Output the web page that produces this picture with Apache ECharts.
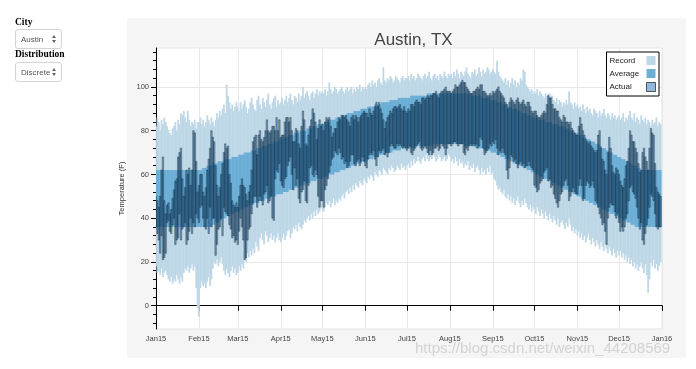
<!DOCTYPE html>
<html><head><meta charset="utf-8">
<script src="https://cdn.jsdelivr.net/npm/echarts@6.0.0/dist/echarts.min.js"></script>
<style>
html,body{margin:0;padding:0;background:#fff;width:696px;height:369px;overflow:hidden;}
#panel{position:absolute;left:127px;top:18px;width:559px;height:340px;background:#f5f5f5;}
#chart{position:absolute;left:0;top:0;width:696px;height:369px;}
.lbl{position:absolute;left:15px;font:bold 9.5px "Liberation Serif","DejaVu Serif",serif;color:#000;z-index:2;}
.sel{position:absolute;left:15px;width:45px;height:18px;border:1px solid #d4d4d4;border-radius:3px;background:#fff;font:8px "Liberation Sans",Arial,sans-serif;color:#555;z-index:2;opacity:0.999;will-change:transform;}
.sel span{position:absolute;left:5px;top:5px;color:#555;}
.up{position:absolute;right:5px;top:5px;width:0;height:0;border-left:2px solid transparent;border-right:2px solid transparent;border-bottom:3px solid #666;}
.dn{position:absolute;right:5px;top:10px;width:0;height:0;border-left:2px solid transparent;border-right:2px solid transparent;border-top:3px solid #666;}
</style></head>
<body>
<div id="panel"></div>
<div id="chart"></div>
<div class="lbl" style="top:17px">City</div>
<div class="sel" style="top:29px"><span>Austin</span><i class="up"></i><i class="dn"></i></div>
<div class="lbl" style="top:49px">Distribution</div>
<div class="sel" style="top:62px"><span>Discrete</span><i class="up"></i><i class="dn"></i></div>
<script>
var monthLabels = ['Jan15','Feb15','Mar15','Apr15','May15','Jun15','Jul15','Aug15','Sep15','Oct15','Nov15','Dec15','Jan16'];
var yTicks = [0,20,40,60,80,100];
var yMinorTicks = [-8,-4,4,8,12,16,24,28,32,36,44,48,52,56,64,68,72,76,84,88,92,96,104,108,112,116];

var recordMax = [
82,86,84,80,85,83,86,84,82,80,79,78,81,82,84,80,85,83,88,87,89,86,84,89,85,82,84,83,85,81,84,
84,86,83,85,82,84,87,85,83,86,84,82,85,88,86,89,87,90,92,88,101,96,93,90,92,89,91,93,
91,89,93,90,92,94,91,88,90,93,95,92,90,89,94,96,92,90,95,93,91,94,97,92,90,93,95,96,91,94,92,
93,95,92,94,96,93,95,97,94,92,96,95,93,97,94,96,100,95,97,98,96,94,97,98,95,97,99,96,98,97,
98,97,99,96,98,102,99,97,98,100,99,97,98,99,100,98,97,99,100,98,99,100,97,99,98,100,99,101,98,100,99,
100,99,101,102,100,103,101,102,100,103,104,102,101,109,103,102,104,103,105,104,102,103,105,104,103,102,104,105,103,104,
104,105,103,106,104,105,103,104,106,105,104,103,105,106,104,105,107,104,103,105,106,104,105,103,106,105,104,107,105,104,106,
105,106,104,107,105,108,106,104,107,106,105,107,109,106,105,104,107,106,108,105,106,109,107,105,108,106,107,109,108,106,107,
108,107,106,112,107,105,104,103,102,104,101,103,100,102,104,101,103,100,102,101,104,103,108,107,101,100,99,98,99,97,
98,97,99,96,98,97,96,95,97,96,97,97,96,96,94,93,95,92,94,93,91,93,92,94,92,98,93,92,90,93,91,
92,90,91,89,92,90,88,91,89,90,88,87,90,89,88,86,89,87,88,90,87,86,88,87,85,88,86,87,85,86,
87,85,86,88,84,86,85,87,89,86,85,88,84,86,85,83,87,85,84,86,83,85,84,82,85,83,84,86,82,84,83
];
var recordMin = [
18,15,16,14,17,13,15,16,14,12,11,13,10,12,11,14,12,10,13,11,15,17,16,18,15,17,19,16,18,8,-1,
-5,8,11,9,10,8,11,13,9,12,17,20,19,21,18,20,22,19,16,14,17,15,13,16,18,15,17,14,
15,18,16,19,17,21,20,24,22,25,23,26,24,29,27,25,31,33,30,28,34,32,29,31,33,30,32,29,31,33,30,
29,31,33,30,32,34,35,31,33,36,35,37,34,38,36,35,37,39,38,40,41,39,42,40,43,41,44,42,43,45,
44,43,45,47,46,48,45,47,49,46,48,47,49,48,50,51,49,52,53,51,54,52,55,53,56,55,54,57,56,55,58,
57,56,59,58,60,59,57,61,60,59,62,61,60,63,62,61,60,63,62,64,63,61,62,64,63,62,65,63,64,62,
64,65,63,66,64,67,65,66,68,66,65,67,68,66,69,67,66,68,67,69,68,66,67,69,68,66,67,68,66,67,69,
68,66,67,65,68,66,64,67,65,66,63,65,64,66,62,64,63,65,61,63,64,62,60,63,61,62,60,63,61,64,60,
61,58,57,55,53,54,52,51,53,50,49,51,48,50,47,49,46,48,50,47,45,48,46,49,47,45,44,46,43,45,
44,42,45,43,41,44,42,40,43,41,39,42,40,38,41,39,37,40,36,38,39,37,35,38,36,40,37,34,36,33,35,
32,34,31,33,30,32,29,31,33,30,28,31,29,27,30,28,26,29,27,25,28,26,24,27,25,23,26,24,22,25,
23,25,22,24,21,23,20,22,19,21,18,20,17,19,16,18,20,17,15,19,14,6,12,20,18,21,17,19,16,18,20
];
var averageMax = [
62,62,62,62,62,62,62,62,62,62,62,62,62,62,62,62,62,62,62,62,62,62,62,62,62,62,62,62,62,62,62,
62,62,62,63,63,63,64,64,64,64,65,65,65,65,66,66,66,66,66,67,67,67,67,67,68,68,68,68,
68,69,69,69,69,70,70,70,70,70,71,71,71,71,72,72,72,72,73,73,73,73,74,74,74,74,75,75,75,75,76,
76,76,77,77,77,77,78,78,78,78,79,79,79,79,80,80,80,80,80,81,81,81,81,82,82,82,82,83,83,83,
83,83,84,84,84,84,85,85,85,85,86,86,86,86,87,87,87,87,88,88,88,88,88,89,89,89,89,89,90,90,90,
90,90,91,91,91,91,91,92,92,92,92,92,93,93,93,93,93,93,94,94,94,94,94,94,95,95,95,95,95,95,
95,95,95,96,96,96,96,96,96,96,96,96,96,96,96,97,97,97,97,97,97,97,97,97,97,97,97,97,97,97,97,
97,97,97,97,97,97,97,97,97,97,97,97,97,97,97,97,96,96,96,96,96,96,96,95,95,95,95,95,95,94,94,
94,94,94,93,93,93,93,92,92,92,92,91,91,91,90,90,90,90,89,89,89,88,88,88,88,87,87,87,86,86,
86,86,86,85,85,85,85,85,84,84,84,84,84,83,83,83,83,83,82,82,82,82,81,81,81,80,80,80,79,79,79,
79,78,78,78,77,77,77,76,76,76,75,75,75,74,74,74,73,73,72,72,72,71,71,70,70,70,69,69,69,68,
68,68,67,67,67,66,66,66,65,65,64,64,64,63,63,63,62,62,62,62,62,62,62,62,62,62,62,62,62,62,62
];
var averageMin = [
36,36,36,36,36,36,36,36,36,36,36,36,36,36,36,36,36,36,36,36,36,36,36,36,36,36,36,36,36,36,36,
36,36,36,36,36,36,36,36,36,36,37,37,38,38,38,39,39,40,40,40,41,41,41,42,42,42,43,43,
43,43,44,44,44,45,45,45,46,46,46,46,47,47,47,47,48,48,48,48,49,49,49,49,50,50,50,50,51,51,51,
51,51,52,52,52,52,53,53,53,53,54,54,54,54,55,55,55,55,56,56,56,56,57,57,57,57,58,58,58,58,
58,59,59,59,59,60,60,60,60,61,61,61,61,62,62,62,62,63,63,63,63,64,64,64,64,65,65,65,65,66,66,
66,66,67,67,67,67,68,68,68,68,69,69,69,69,69,70,70,70,70,70,71,71,71,71,71,71,72,72,72,72,
72,72,72,72,72,72,73,73,73,73,73,73,73,73,73,73,73,73,73,74,74,74,74,74,74,74,74,74,74,74,74,
74,74,74,74,74,74,74,74,74,74,74,73,73,73,73,73,73,73,73,72,72,72,72,72,72,71,71,71,71,71,70,
70,70,70,69,69,69,68,68,68,67,67,67,66,66,66,65,65,65,64,64,64,64,63,63,63,62,62,62,61,61,
61,60,60,60,59,59,59,58,58,58,57,57,57,56,56,56,55,55,55,54,54,54,53,53,53,52,52,52,51,51,51,
50,50,50,49,49,49,48,48,48,47,47,47,46,46,46,45,45,45,44,44,44,43,43,43,42,42,42,41,41,41,
40,40,40,39,39,39,38,38,38,37,37,37,36,36,36,36,36,36,36,36,36,36,36,36,36,36,36,36,36,36,36
];
var actualMax = [
50,48,45,50,62,68,48,42,46,47,42,44,49,53,57,58,68,70,72,58,50,54,62,60,63,55,62,80,79,66,52,
55,60,60,52,50,54,62,67,72,80,77,75,64,55,50,54,60,65,70,74,72,73,60,56,48,46,45,47,
45,50,55,58,55,54,51,48,52,55,62,75,77,78,69,78,80,76,75,77,80,85,80,79,80,82,82,80,86,80,85,
77,78,78,84,86,86,84,86,80,75,75,81,80,74,72,82,89,85,74,73,78,82,85,90,88,84,76,81,85,82,
83,80,84,86,85,86,82,77,79,81,81,84,86,85,87,87,86,87,85,84,82,86,87,85,87,86,84,86,87,88,89,
88,88,86,90,88,87,89,91,93,91,93,90,88,85,81,84,86,87,89,88,90,91,91,90,91,92,90,89,91,89,
88,90,89,92,92,91,93,94,93,93,92,95,95,94,95,96,95,96,96,97,97,98,96,95,97,98,98,99,100,98,98,
98,97,98,99,101,100,100,101,102,103,102,102,100,99,98,97,97,98,98,99,100,99,101,101,98,98,97,96,96,97,96,
98,97,98,99,100,98,97,96,95,93,92,90,93,95,94,93,92,94,95,93,92,93,94,92,91,93,93,91,89,88,
89,89,87,86,86,87,88,89,88,92,96,95,95,92,90,90,89,89,86,85,84,87,86,84,84,83,84,81,80,79,78,
78,82,86,83,80,78,76,75,74,75,73,72,71,70,71,78,80,72,67,66,62,60,70,77,72,64,61,60,63,62,
60,57,55,54,58,64,66,72,80,78,75,75,72,70,65,61,62,70,72,68,66,62,72,81,79,78,65,54,52,51,50
];
var actualMin = [
36,33,30,24,32,21,22,24,38,39,34,33,37,40,28,30,31,42,30,35,36,38,28,30,34,40,33,38,36,42,40,
38,45,46,40,36,35,40,33,45,36,40,40,23,28,35,36,40,32,45,43,42,41,37,35,31,32,29,30,
28,34,40,36,30,21,22,30,35,36,42,47,50,50,45,48,50,48,46,51,52,55,47,48,50,40,39,58,62,61,65,
57,55,54,58,59,64,66,68,60,53,63,55,58,49,47,52,53,57,48,47,55,63,64,60,59,62,60,50,45,48,
48,45,53,55,58,61,64,67,68,71,70,69,72,70,67,68,65,66,63,64,66,69,69,65,64,66,67,64,66,68,66,
64,63,67,69,70,69,71,67,64,68,71,70,71,72,69,70,68,70,73,74,73,72,72,74,73,74,73,72,73,72,
71,72,73,70,69,71,72,73,74,75,72,71,72,73,72,70,69,71,69,70,72,72,73,71,72,74,73,72,69,72,74,
74,73,74,75,75,74,73,74,74,74,70,69,72,71,73,74,73,74,73,74,72,73,77,76,72,69,70,71,72,74,73,
75,74,76,72,69,71,70,72,70,69,62,58,63,69,68,66,67,65,63,65,66,64,65,63,64,64,66,64,63,62,
55,54,52,53,56,57,58,61,62,63,57,58,54,55,51,49,47,45,48,51,52,55,57,58,55,48,50,52,54,52,51,
51,55,58,55,48,49,55,57,56,54,55,57,54,48,47,45,42,40,37,38,34,28,40,45,47,46,46,43,40,42,
38,34,36,34,36,40,42,48,54,55,52,51,49,45,40,35,38,30,28,33,37,40,45,51,50,48,42,36,35,36,36
];

// day categories: Jan 1 2015 .. Jan 1 2016
var days = [];
var t0 = Date.UTC(2015, 0, 1);
for (var i = 0; i <= 365; i++) {
  days.push(new Date(t0 + i * 86400000).toISOString().slice(0, 10));
}
function isMonthStart(i) { return days[i] && days[i].slice(8) === '01'; }
function monthLabel(i) {
  var d = days[i];
  return monthLabels[(+d.slice(0, 4) - 2015) * 12 + (+d.slice(5, 7)) - 1];
}
function pack(lo, hi) {
  var out = [];
  for (var k = 0; k < lo.length; k++) out.push([k, lo[k], hi[k]]);
  return out;
}
function barRenderer(fill, stroke, lw, extra) {
  return function (params, api) {
    var x = api.value(0);
    var lo = api.coord([x, api.value(1)]);
    var hi = api.coord([x, api.value(2)]);
    var w = api.size([1, 0])[0];
    return {
      type: 'rect',
      shape: { x: hi[0] - w / 2 - extra / 2, y: hi[1], width: w + extra, height: lo[1] - hi[1] },
      style: stroke ? { fill: fill, stroke: stroke, lineWidth: lw } : { fill: fill }
    };
  };
}

var FONT = '"Liberation Sans", Arial, Helvetica, sans-serif';
var chart = echarts.init(document.getElementById('chart'), null, { renderer: 'canvas' });
chart.setOption({
  animation: false,
  textStyle: { fontFamily: FONT },
  title: {
    text: 'Austin, TX', left: 408.5, top: 27, textAlign: 'center',
    textStyle: { fontSize: 17, fontWeight: 'normal', color: '#444', fontFamily: FONT }
  },
  grid: {
    left: 156, right: 34, top: 48, bottom: 40,
    show: true, backgroundColor: '#fff', borderColor: '#e5e5e5', borderWidth: 1
  },
  legend: {
    orient: 'vertical', right: 37, top: 52, align: 'right',
    backgroundColor: '#fff', borderColor: '#000', borderWidth: 1, borderRadius: 0,
    padding: [4, 3, 4, 3], itemGap: 4, itemWidth: 9, itemHeight: 9,
    formatter: function (name) { return '{n|' + name + '}'; },
    textStyle: {
      fontSize: 8, color: '#222', fontFamily: FONT,
      rich: { n: { width: 32, align: 'left', fontSize: 8, color: '#222', fontFamily: FONT } }
    },
    data: [
      { name: 'Record', icon: 'rect', itemStyle: { color: '#bdd7e7' } },
      { name: 'Average', icon: 'rect', itemStyle: { color: '#6baed6' } },
      { name: 'Actual', icon: 'rect', itemStyle: { color: 'rgba(33,113,181,0.5)', borderColor: 'rgba(0,0,0,0.6)', borderWidth: 1 } }
    ]
  },
  xAxis: {
    type: 'category', data: days, boundaryGap: false,
    axisLine: { lineStyle: { color: '#000', width: 1 } },
    axisTick: { interval: function (i) { return isMonthStart(i); }, length: 5, lineStyle: { color: '#000' } },
    axisLabel: {
      interval: function (i) { return isMonthStart(i); },
      formatter: function (v, i) { return monthLabel(i); },
      fontSize: 7.5, color: '#444', margin: 6, fontFamily: FONT
    },
    splitLine: { show: true, interval: function (i) { return isMonthStart(i); }, lineStyle: { color: '#e8e8e8' } }
  },
  yAxis: [{
    type: 'value', min: -10.65, max: 117.8, position: 'left',
    name: 'Temperature (F)', nameLocation: 'middle', nameGap: 19,
    nameTextStyle: { fontSize: 7.5, color: '#333', fontFamily: FONT },
    axisLine: { show: true, lineStyle: { color: '#000', width: 1 } },
    axisTick: { show: true, customValues: yTicks, length: 5, lineStyle: { color: '#000' } },
    axisLabel: { customValues: yTicks, fontSize: 7.5, color: '#444', margin: 7, fontFamily: FONT },
    splitLine: { show: true, lineStyle: { color: '#e8e8e8' } }
  }, {
    type: 'value', min: -10.65, max: 117.8, position: 'left',
    axisLine: { show: false },
    axisTick: { show: true, customValues: yMinorTicks, length: 3, lineStyle: { color: '#000' } },
    axisLabel: { show: false },
    splitLine: { show: false }
  }],
  series: [
    { type: 'custom', name: 'Record', clip: true, silent: true, z: 2,
      itemStyle: { color: '#bdd7e7' },
      renderItem: barRenderer('#bdd7e7', null, 0, 0.4),
      encode: { x: 0, y: [1, 2] }, data: pack(recordMin, recordMax) },
    { type: 'custom', name: 'Average', clip: true, silent: true, z: 3,
      itemStyle: { color: '#6baed6' },
      renderItem: barRenderer('#6baed6', null, 0, 0.4),
      encode: { x: 0, y: [1, 2] }, data: pack(averageMin, averageMax) },
    { type: 'custom', name: 'Actual', clip: true, silent: true, z: 4,
      itemStyle: { color: 'rgba(33,113,181,0.5)' },
      renderItem: barRenderer('rgba(33,113,181,0.5)', 'rgba(0,0,0,0.42)', 0.8, 0),
      encode: { x: 0, y: [1, 2] }, data: pack(actualMin, actualMax) }
  ],
  graphic: [{
    type: 'text', left: 415, top: 341, z: 100, silent: true,
    style: { text: 'https://blog.csdn.net/weixin_44208569', font: '15px ' + FONT, fill: 'rgba(205,205,205,0.85)' }
  }]
});
</script>
</body></html>
